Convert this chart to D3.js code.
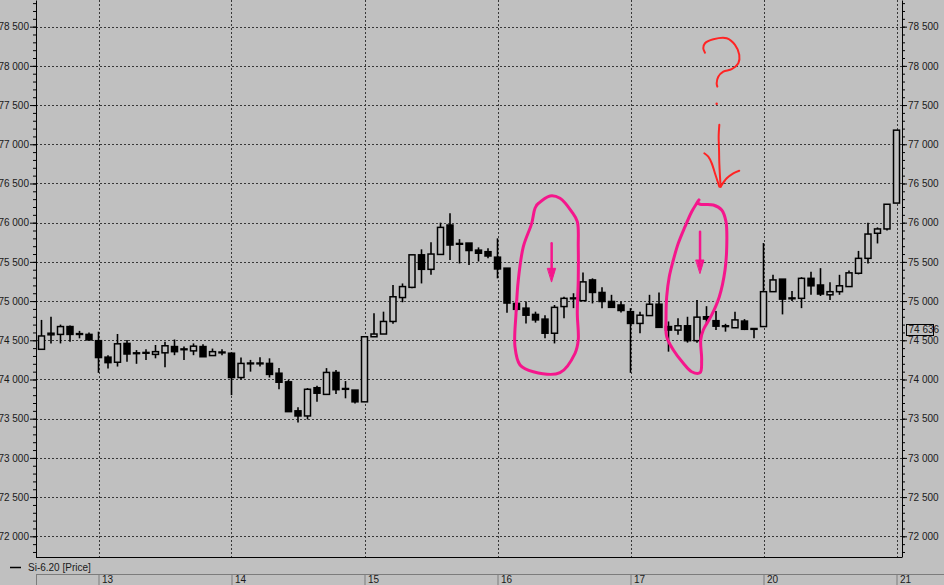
<!DOCTYPE html>
<html>
<head>
<meta charset="utf-8">
<script src="https://cdn.jsdelivr.net/npm/d3@7"></script>
<style>
  body { margin: 0; background: #c0c0c0; }
  svg text { font-family: "Liberation Sans Narrow", "Liberation Sans", Arial, sans-serif; font-size: 10px; fill: #1a1a1a; }
</style>
</head>
<body>
<div id="chart"></div>
<script>
// hourly candles, from the 12th 18:00 up to the 21st 10:00
const opens = [74385, 74570, 74575, 74675, 74575, 74575,
  74495, 74285, 74220, 74460, 74330, 74335, 74320, 74340, 74420, 74380, 74365, 74420, 74305, 74350,
  74335, 74025, 74200, 74210, 74205, 74080, 73970, 73600, 73535, 73895, 73810, 74090, 73885, 73865,
  73715, 74545, 74580, 74740, 75045, 75175, 75590, 75405, 75595, 75970, 75725, 75740, 75650, 75630,
  75560, 75420, 74970, 74910, 74830, 74770, 74590, 74930, 75030, 75005, 75270, 75110, 74995, 74950,
  74865, 74715, 74815, 74960, 74675, 74630, 74685, 74495, 74800, 74750, 74685, 74660, 74745, 74650,
  74675, 75120, 75280, 75040, 75035, 75290, 75205, 75080, 75120, 75185, 75355, 75545, 75865, 75920,
  76250];
const highs = [74760, 74800, 74700, 74690, 74620, 74600,
  74610, 74310, 74580, 74505, 74375, 74385, 74440, 74480, 74510, 74420, 74460, 74450, 74395, 74385,
  74345, 74280, 74250, 74285, 74270, 74145, 73995, 73645, 73890, 73920, 74145, 74120, 73980, 73865,
  74545, 74845, 74865, 75205, 75225, 75590, 75660, 75750, 76000, 76120, 75790, 75740, 75685, 75675,
  75800, 75420, 75000, 74995, 74865, 74820, 74950, 75055, 75100, 75365, 75290, 75175, 75080, 74995,
  74910, 74865, 75080, 75110, 74740, 74780, 74800, 75015, 74935, 74875, 74710, 74865, 74770, 74655,
  75740, 75335, 75280, 75130, 75305, 75375, 75420, 75240, 75335, 75390, 75640, 76000, 75940, 76235,
  77180];
const lows = [74385, 74460, 74460, 74480, 74525, 74500,
  74085, 74140, 74165, 74225, 74200, 74250, 74270, 74155, 74310, 74250, 74310, 74290, 74305, 74310,
  73800, 74000, 74100, 74165, 74025, 73875, 73590, 73450, 73490, 73715, 73810, 73815, 73760, 73695,
  73715, 74545, 74580, 74710, 74985, 75165, 75225, 75335, 75595, 75525, 75480, 75460, 75505, 75545,
  75290, 74850, 74870, 74715, 74725, 74525, 74460, 74780, 74910, 75005, 74970, 74910, 74920, 74855,
  74085, 74590, 74815, 74665, 74355, 74570, 74470, 74470, 74715, 74630, 74610, 74660, 74630, 74525,
  74675, 75120, 74830, 75000, 74910, 75080, 75065, 75015, 75080, 75185, 75340, 75480, 75735, 75900,
  76250];
const closes = [74555, 74590, 74675, 74575, 74585, 74505,
  74280, 74215, 74455, 74325, 74340, 74345, 74355, 74430, 74355, 74390, 74425, 74290, 74355, 74340,
  74025, 74205, 74210, 74200, 74065, 73965, 73590, 73535, 73875, 73825, 74090, 73870, 73875, 73715,
  74545, 74580, 74740, 75055, 75185, 75590, 75405, 75600, 75940, 75715, 75735, 75645, 75610, 75575,
  75410, 74975, 74895, 74820, 74760, 74590, 74920, 75035, 75040, 75245, 75110, 74995, 74920, 74880,
  74715, 74820, 74960, 74665, 74630, 74685, 74495, 74795, 74770, 74680, 74675, 74760, 74640, 74640,
  75120, 75270, 75025, 75030, 75290, 75195, 75090, 75120, 75195, 75360, 75545, 75855, 75920, 76235,
  77180];

const dayLabels = ["13", "14", "15", "16", "17", "20", "21"];
const dayStarts = [6, 20, 34, 48, 62, 76, 90];   // candle index of each day's 10:00 bar
const priceTicks = d3.range(72000, 78501, 500);
const minorTicks = d3.range(71800, 78801, 100);
const lastPrice = 74636;
const seriesName = "Si-6.20 [Price]";

// hand drawn marks, points as [candle index, price]
const loopA = [[52.13, 76226], [53.53, 76341], [54.58, 76311], [55.81, 76140], [56.4, 76013], [56.5, 75694],
  [56.5, 75269], [56.4, 74844], [56.5, 74504], [56.16, 74334], [54.58, 74087], [51.77, 74099], [50.37, 74185],
  [49.84, 74418], [49.95, 74844], [50.19, 75269], [50.72, 75694], [51.6, 75992], [51.95, 76184], [52.3, 76247]];
const loopB = [[69.21, 76290], [68.97, 76247], [68.44, 76140], [67.74, 75949], [67.03, 75737], [66.51, 75524],
  [66.08, 75311], [65.81, 75056], [65.74, 74801], [65.81, 74546], [66.51, 74376], [67.56, 74207], [68.44, 74099],
  [69.32, 74087], [69.49, 74249], [69.39, 74504], [69.66, 74631], [70.55, 74823], [71.35, 75056], [71.95, 75397],
  [72.13, 75694], [72.05, 76013], [71.6, 76162], [70.72, 76226], [69.32, 76235], [69.03, 76255]];
const arrowA = { at: 53.7, from: 75737, base: 75418, tip: 75247 };
const arrowB = { at: 69.32, from: 75885, base: 75524, tip: 75355 };
const qMark = [[69.84, 78168], [69.66, 78224], [69.84, 78288], [70.72, 78339], [72.13, 78352], [73.0, 78267],
  [73.45, 78139], [73.35, 78033], [72.65, 77957], [71.77, 77926], [71.24, 77862], [71.07, 77778], [71.14, 77735]];
const qDot = [71.07, 77516];
const qShaft = [[71.35, 77248], [71.28, 77097], [71.32, 76928], [71.35, 76758], [71.42, 76587], [71.49, 76459]];
const qBarbL = [[69.77, 76885], [70.19, 76842], [70.55, 76758], [70.89, 76630], [71.35, 76459]];
const qBarbR = [[71.49, 76459], [72.13, 76566], [72.82, 76630], [73.45, 76663]];

class CandleChart {
    constructor(element) {
        this.parentElement = element;
        this.initVis();
    }

    initVis() {
        const vis = this;

        vis.WIDTH = 944;
        vis.HEIGHT = 585;
        vis.PLOT = { LEFT: 36, RIGHT: 902, TOP: 0, BOTTOM: 557 };

        vis.svg = d3.select(vis.parentElement).append("svg")
            .attr("width", vis.WIDTH)
            .attr("height", vis.HEIGHT);

        vis.svg.append("rect")
            .attr("width", vis.WIDTH)
            .attr("height", vis.HEIGHT)
            .attr("fill", "#c0c0c0");

        vis.x = d3.scaleLinear().domain([0, opens.length - 1]).range([41.5, 896.5]);
        vis.y = d3.scaleLinear().domain([71736, 78840]).range([vis.PLOT.BOTTOM, vis.PLOT.TOP]);

        vis.drawGrid();
        vis.drawCandles();
        vis.drawAxes();
        vis.drawNotes();
    }

    drawGrid() {
        const vis = this;
        const crisp = v => Math.round(v) + 0.5;

        const grid = vis.svg.append("g")
            .attr("stroke", "#383838")
            .attr("stroke-dasharray", "2,2")
            .attr("shape-rendering", "crispEdges");

        grid.selectAll(".hgrid")
            .data(priceTicks)
            .join("line")
            .attr("class", "hgrid")
            .attr("x1", vis.PLOT.LEFT)
            .attr("x2", vis.PLOT.RIGHT)
            .attr("y1", d => crisp(vis.y(d)))
            .attr("y2", d => crisp(vis.y(d)));

        grid.selectAll(".vgrid")
            .data(dayStarts)
            .join("line")
            .attr("class", "vgrid")
            .attr("x1", d => crisp(vis.x(d)))
            .attr("x2", d => crisp(vis.x(d)))
            .attr("y1", vis.PLOT.TOP)
            .attr("y2", vis.PLOT.BOTTOM);
    }

    drawCandles() {
        const vis = this;
        const candles = opens.map((o, i) => ({ i, o, h: highs[i], l: lows[i], c: closes[i] }));

        const g = vis.svg.append("g");

        g.selectAll(".wick")
            .data(candles)
            .join("line")
            .attr("class", "wick")
            .attr("x1", d => vis.x(d.i))
            .attr("x2", d => vis.x(d.i))
            .attr("y1", d => vis.y(d.h))
            .attr("y2", d => vis.y(d.l))
            .attr("stroke", "#000")
            .attr("stroke-width", 1.6);

        // hollow body when the bar closed up
        g.selectAll(".body")
            .data(candles)
            .join("rect")
            .attr("class", "body")
            .attr("x", d => vis.x(d.i) - 3)
            .attr("width", 6)
            .attr("y", d => vis.y(Math.max(d.o, d.c)))
            .attr("height", d => Math.max(0.8, Math.abs(vis.y(d.o) - vis.y(d.c))))
            .attr("fill", d => d.c >= d.o ? "#c0c0c0" : "#000")
            .attr("stroke", "#000")
            .attr("stroke-width", 1.5);
    }

    drawAxes() {
        const vis = this;
        const fmt = d => d3.format(",")(d).replace(/,/g, " ");

        // left scale
        vis.svg.append("g")
            .attr("transform", `translate(${vis.PLOT.LEFT}, 0)`)
            .call(d3.axisLeft(vis.y).tickValues(minorTicks).tickSize(3).tickSizeOuter(0).tickFormat(""));
        vis.svg.append("g")
            .attr("transform", `translate(${vis.PLOT.LEFT}, 0)`)
            .call(d3.axisLeft(vis.y).tickValues(priceTicks).tickSize(6).tickSizeOuter(0).tickPadding(1).tickFormat(fmt))
            .call(g => g.select(".domain").remove());

        // right scale
        vis.svg.append("g")
            .attr("transform", `translate(${vis.PLOT.RIGHT}, 0)`)
            .call(d3.axisRight(vis.y).tickValues(minorTicks).tickSize(3).tickSizeOuter(0).tickFormat(""));
        vis.svg.append("g")
            .attr("transform", `translate(${vis.PLOT.RIGHT}, 0)`)
            .call(d3.axisRight(vis.y).tickValues(priceTicks).tickSize(5).tickSizeOuter(0).tickPadding(1).tickFormat(fmt))
            .call(g => g.select(".domain").remove());

        vis.svg.selectAll(".tick text").style("font-size", "10px").attr("fill", "#1a1a1a");

        // bottom border of the price pane
        vis.svg.append("line")
            .attr("x1", vis.PLOT.LEFT)
            .attr("x2", vis.PLOT.RIGHT)
            .attr("y1", vis.PLOT.BOTTOM + 0.5)
            .attr("y2", vis.PLOT.BOTTOM + 0.5)
            .attr("stroke", "#000");

        // last price tag
        const tagY = vis.y(lastPrice);
        vis.svg.append("rect")
            .attr("x", 906.5)
            .attr("y", Math.round(tagY) - 5.5)
            .attr("width", 27)
            .attr("height", 11)
            .attr("fill", "#c0c0c0")
            .attr("stroke", "#000");
        vis.svg.append("text")
            .attr("x", 908.5)
            .attr("y", tagY)
            .attr("dy", "0.35em")
            .text(fmt(lastPrice));

        // legend
        vis.svg.append("line")
            .attr("x1", 10).attr("x2", 21)
            .attr("y1", 567.5).attr("y2", 567.5)
            .attr("stroke", "#000")
            .attr("stroke-width", 1.5);
        vis.svg.append("text")
            .attr("x", 28)
            .attr("y", 567)
            .attr("dy", "0.35em")
            .text(seriesName);

        // date strip
        const strip = vis.svg.append("g").attr("transform", "translate(0, 574)");
        strip.append("line")
            .attr("x1", vis.PLOT.LEFT).attr("x2", vis.WIDTH)
            .attr("y1", 0.5).attr("y2", 0.5)
            .attr("stroke", "#7c7c7c");
        strip.append("line")
            .attr("x1", vis.PLOT.LEFT + 0.5).attr("x2", vis.PLOT.LEFT + 0.5)
            .attr("y1", 0).attr("y2", 11)
            .attr("stroke", "#7c7c7c");
        strip.append("g")
            .call(d3.axisBottom(vis.x).tickValues(dayStarts).tickSize(11).tickFormat((d, i) => dayLabels[i]))
            .call(g => g.select(".domain").remove())
            .call(g => g.selectAll(".tick line").attr("stroke", "#7c7c7c"))
            .call(g => g.selectAll(".tick text")
                .attr("x", 3)
                .attr("y", 2)
                .attr("dy", "0.71em")
                .attr("text-anchor", "start")
                .style("font-size", "10px")
                .attr("fill", "#1a1a1a"));
    }

    drawNotes() {
        const vis = this;
        const pink = "#f5168c";
        const red = "#ff2424";

        const curve = d3.line()
            .x(d => vis.x(d[0]))
            .y(d => vis.y(d[1]))
            .curve(d3.curveCatmullRom.alpha(0.5));

        const notes = vis.svg.append("g")
            .attr("fill", "none")
            .attr("stroke-linecap", "round")
            .attr("stroke-linejoin", "round");

        [loopA, loopB].forEach(pts => {
            notes.append("path")
                .attr("d", curve(pts))
                .attr("stroke", pink)
                .attr("stroke-width", 3);
        });

        [arrowA, arrowB].forEach(a => {
            notes.append("line")
                .attr("x1", vis.x(a.at)).attr("x2", vis.x(a.at))
                .attr("y1", vis.y(a.from)).attr("y2", vis.y(a.base))
                .attr("stroke", pink)
                .attr("stroke-width", 2.5);
            notes.append("path")
                .attr("d", `M${vis.x(a.at) - 4},${vis.y(a.base)}L${vis.x(a.at) + 4},${vis.y(a.base)}L${vis.x(a.at)},${vis.y(a.tip)}Z`)
                .attr("fill", pink)
                .attr("stroke", pink)
                .attr("stroke-width", 1);
        });

        [qMark, qShaft, qBarbL, qBarbR].forEach(pts => {
            notes.append("path")
                .attr("d", curve(pts))
                .attr("stroke", red)
                .attr("stroke-width", 2);
        });
        notes.append("circle")
            .attr("cx", vis.x(qDot[0]))
            .attr("cy", vis.y(qDot[1]))
            .attr("r", 1.2)
            .attr("fill", red)
            .attr("stroke", "none");
    }
}

new CandleChart("#chart");
</script>
</body>
</html>
